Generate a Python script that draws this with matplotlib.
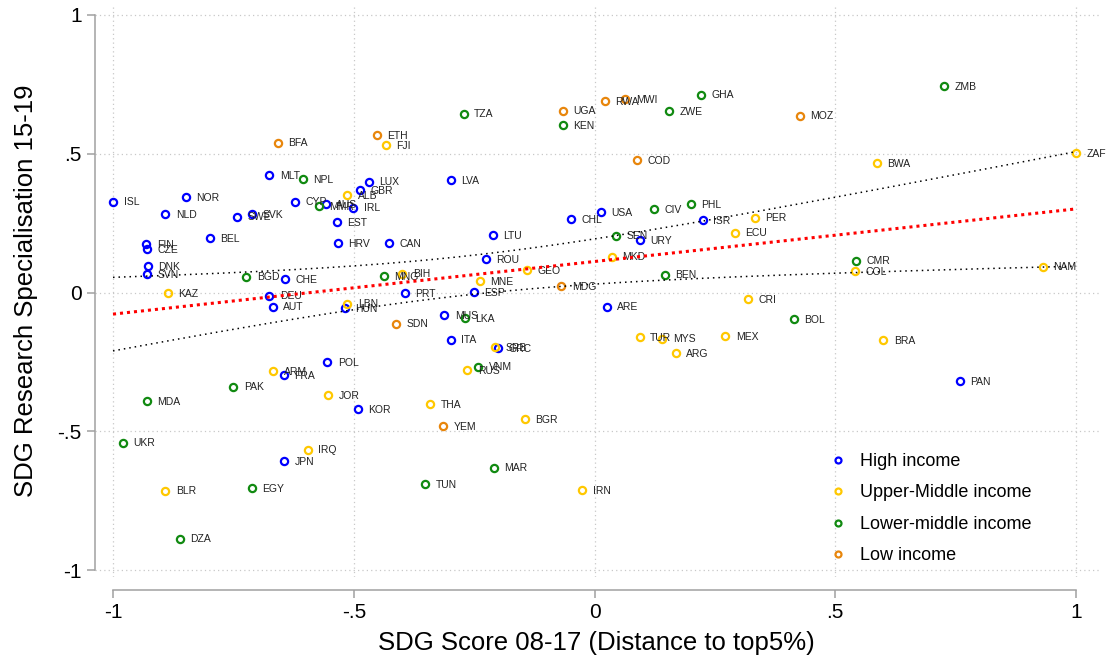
import numpy as np
import matplotlib
matplotlib.use("Agg")
import matplotlib.pyplot as plt
from matplotlib.lines import Line2D

plt.rcParams['font.family'] = ['Liberation Sans', 'DejaVu Sans']

# income groups: country code, SDG score (x), research specialisation (y)
high_codes = ['ISL', 'NOR', 'NLD', 'MLT', 'SVK', 'SWE', 'CYP', 'AUS', 'LUX', 'LVA',
              'GBR', 'IRL', 'EST', 'BEL', 'FIN', 'CZE', 'HRV', 'CAN', 'LTU', 'CHL',
              'USA', 'ISR', 'URY', 'ROU', 'DNK', 'SVN', 'CHE', 'DEU', 'AUT', 'PRT',
              'ESP', 'HUN', 'ARE', 'MUS', 'ITA', 'GRC', 'POL', 'FRA', 'KOR', 'JPN', 'PAN']
high_x = [-0.999, -0.849, -0.891, -0.675, -0.712, -0.742, -0.621, -0.558, -0.469, -0.298,
          -0.487, -0.501, -0.535, -0.799, -0.931, -0.929, -0.533, -0.427, -0.211, -0.049,
          0.014, 0.225, 0.094, -0.226, -0.927, -0.930, -0.642, -0.675, -0.668, -0.394,
          -0.251, -0.518, 0.026, -0.312, -0.299, -0.201, -0.555, -0.645, -0.491, -0.645, 0.759]
high_y = [0.327, 0.343, 0.283, 0.422, 0.283, 0.273, 0.327, 0.318, 0.399, 0.404,
          0.368, 0.306, 0.253, 0.195, 0.174, 0.157, 0.177, 0.177, 0.206, 0.264,
          0.290, 0.262, 0.188, 0.120, 0.095, 0.067, 0.049, -0.011, -0.051, -0.002,
          0.002, -0.056, -0.051, -0.081, -0.170, -0.201, -0.250, -0.297, -0.421, -0.608, -0.319]

umid_codes = ['FJI', 'ALB', 'KAZ', 'BIH', 'LBN', 'MNE', 'GEO', 'MKD', 'PER', 'ECU',
              'BWA', 'ZAF', 'COL', 'NAM', 'CRI', 'TUR', 'MYS', 'MEX', 'ARG', 'BRA',
              'SRB', 'RUS', 'ARM', 'JOR', 'THA', 'BGR', 'IRQ', 'BLR', 'IRN']
umid_x = [-0.433, -0.513, -0.886, -0.399, -0.513, -0.238, -0.141, 0.036, 0.333, 0.292,
          0.586, 1.000, 0.541, 0.931, 0.318, 0.094, 0.141, 0.272, 0.169, 0.600,
          -0.206, -0.264, -0.667, -0.553, -0.341, -0.144, -0.595, -0.891, -0.025]
umid_y = [0.530, 0.351, -0.003, 0.068, -0.040, 0.041, 0.081, 0.129, 0.270, 0.216,
          0.465, 0.502, 0.077, 0.093, -0.023, -0.161, -0.166, -0.157, -0.219, -0.171,
          -0.198, -0.279, -0.283, -0.369, -0.401, -0.456, -0.566, -0.714, -0.712]

lmid_codes = ['NPL', 'MMR', 'TZA', 'KEN', 'GHA', 'ZWE', 'ZMB', 'CIV', 'PHL', 'SEN',
              'BGD', 'MNG', 'BEN', 'CMR', 'BOL', 'LKA', 'VNM', 'PAK', 'MDA', 'UKR',
              'EGY', 'DZA', 'TUN', 'MAR']
lmid_x = [-0.605, -0.573, -0.272, -0.066, 0.222, 0.155, 0.726, 0.124, 0.200, 0.045,
          -0.723, -0.437, 0.146, 0.543, 0.414, -0.270, -0.241, -0.750, -0.929, -0.980,
          -0.711, -0.861, -0.352, -0.209]
lmid_y = [0.409, 0.312, 0.644, 0.604, 0.713, 0.653, 0.744, 0.301, 0.319, 0.205,
          0.057, 0.058, 0.064, 0.115, -0.097, -0.092, -0.267, -0.339, -0.391, -0.541,
          -0.705, -0.887, -0.691, -0.631]

low_codes = ['BFA', 'ETH', 'UGA', 'RWA', 'MWI', 'MOZ', 'COD', 'MDG', 'SDN', 'YEM']
low_x = [-0.657, -0.452, -0.066, 0.021, 0.064, 0.427, 0.088, -0.069, -0.412, -0.314]
low_y = [0.540, 0.568, 0.655, 0.690, 0.698, 0.637, 0.477, 0.022, -0.112, -0.481]

groups = [
    ('High income', '#0000ff', high_codes, high_x, high_y),
    ('Upper-Middle income', '#ffc800', umid_codes, umid_x, umid_y),
    ('Lower-middle income', '#118a11', lmid_codes, lmid_x, lmid_y),
    ('Low income', '#e8860c', low_codes, low_x, low_y),
]

ticks = [-1, -0.5, 0, 0.5, 1]
tick_labels = ['-1', '-.5', '0', '.5', '1']

fig = plt.figure(figsize=(11.11, 6.66), dpi=100)
ax = fig.add_axes([0.0855, 0.1336, 0.9046, 0.8589])

for name, col, codes, xs, ys in groups:
    ax.plot(xs, ys, 'o', ls='', mfc='none', mec=col, ms=5.2, mew=1.6, zorder=3)
    for c, x, y in zip(codes, xs, ys):
        ax.annotate(c, (x, y), xytext=(7.5, -0.5), textcoords='offset points',
                    va='center', ha='left', fontsize=7.5, color='#222222', zorder=4)

# linear fit with 95% confidence interval, from all points
allx = np.array(high_x + umid_x + lmid_x + low_x)
ally = np.array(high_y + umid_y + lmid_y + low_y)
n = len(allx)
b1, b0 = np.polyfit(allx, ally, 1)
resid = ally - (b0 + b1 * allx)
s = np.sqrt(np.sum(resid ** 2) / (n - 2))
sxx = np.sum((allx - allx.mean()) ** 2)
xx = np.linspace(-1, 1, 200)
fit = b0 + b1 * xx
half = 1.982 * s * np.sqrt(1 / n + (xx - allx.mean()) ** 2 / sxx)
ax.plot(xx, fit + half, color='black', lw=1.1, ls=(0, (1, 2.6)), zorder=5)
ax.plot(xx, fit - half, color='black', lw=1.1, ls=(0, (1, 2.6)), zorder=5)
ax.plot(xx, fit, color='red', lw=2.2, ls=(0, (1, 1.3)), zorder=5)

ax.set_xlim(-1.0374, 1.0498)
ax.set_ylim(-1.025, 1.036)
ax.set_xticks(ticks)
ax.set_xticklabels(tick_labels)
ax.set_yticks(ticks)
ax.set_yticklabels(tick_labels)
ax.grid(True, color='#c8c8c8', lw=0.9, ls=(0, (1, 2.5)))
ax.set_axisbelow(True)

for side in ['top', 'right']:
    ax.spines[side].set_visible(False)
ax.spines['left'].set_bounds(-1, 1)
ax.spines['bottom'].set_bounds(-1, 1)
ax.spines['bottom'].set_position(('outward', 9.4))
for side in ['left', 'bottom']:
    ax.spines[side].set_color('#a0a0a0')
    ax.spines[side].set_linewidth(1.1)
ax.tick_params(axis='both', length=5.5, width=1.1, color='#a0a0a0', labelsize=15,
               labelcolor='black')
ax.tick_params(axis='y', pad=4)
ax.tick_params(axis='x', pad=4)

ax.set_xlabel('SDG Score 08-17 (Distance to top5%)', fontsize=18.5)
ax.set_ylabel('SDG Research Specialisation 15-19', fontsize=18.5)
ax.xaxis.set_label_coords(0.4985, -0.094)
ax.yaxis.set_label_coords(-0.0567, 0.5)

handles = [Line2D([], [], marker='o', ls='', mfc='none', mec=g[1], ms=4.3, mew=1.6)
           for g in groups]
ax.legend(handles, [g[0] for g in groups], loc='upper left',
          bbox_to_anchor=(0.730, 0.2168), frameon=False, fontsize=13,
          borderpad=0, borderaxespad=0, handlelength=1.0, handletextpad=0.72,
          labelspacing=0.8)

fig.savefig('out.png', dpi=100)
